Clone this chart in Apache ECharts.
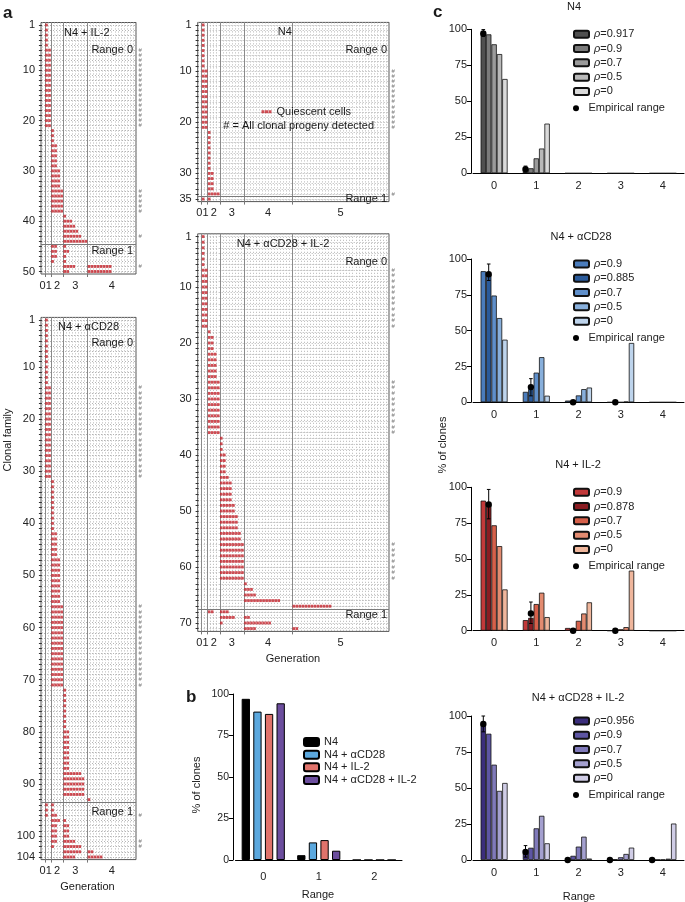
<!DOCTYPE html>
<html><head><meta charset="utf-8">
<script src="https://cdn.jsdelivr.net/npm/echarts@6/dist/echarts.min.js"></script>
<style>html,body{margin:0;padding:0;background:#fff}#c{width:685px;height:902px}</style>
</head><body><div id="c"></div><script>
// ---------------- DATA ----------------
// Panel a: runs of clonal families [firstFamily, lastFamily, generation, quiescentCells]
const genLabels = ['0', '1', '2', '3', '4', '5'];

const aIL2Runs = [[1,5,1,1],[6,21,1,2],[22,24,2,1],[25,29,2,2],[30,33,2,3],[34,38,2,4],
  [39,39,3,1],[40,40,3,3],[41,41,3,4],[42,42,3,5],[43,43,3,6],[44,44,3,8],
  [45,45,2,2],[45,45,3,1],[46,46,2,2],[46,46,3,2],[47,47,2,2],[47,47,3,1],[48,48,2,1],[48,48,3,1],
  [49,49,3,4],[49,49,4,8],[50,50,3,2],[50,50,4,8]];
const aIL2Hash = [[6,21],[34,38],[43,43],[49,49]];
const aIL2Ticks = [1,10,20,30,40,50];

const aN4Runs = [[1,9,1,1],[10,21,1,2],[22,29,2,1],[30,33,2,2],[34,34,2,4],[35,35,1,1],[35,35,2,1]];
const aN4Hash = [[10,21],[34,34]];
const aN4Ticks = [1,10,20,30,35];

const aCD28Runs = [[1,13,1,1],[14,31,1,2],[32,41,2,1],[42,46,2,2],[47,55,2,3],[56,71,2,4],
  [72,79,3,1],[80,87,3,2],[88,88,3,6],[89,92,3,7],[93,93,4,1],
  [94,95,1,1],[94,95,2,1],[96,96,1,1],[96,96,2,2],[97,97,2,3],[97,97,3,1],[98,100,2,2],[98,100,3,2],
  [101,101,2,2],[101,101,3,4],[102,102,2,1],[102,102,3,6],[103,103,3,6],[103,103,4,2],[104,104,3,4],[104,104,4,5]];
const aCD28Hash = [[14,31],[56,71],[96,96],[101,102]];
const aCD28Ticks = [1,10,20,30,40,50,60,70,80,90,100,104];

const aComboRuns = [[1,6,1,1],[7,17,1,2],[18,18,2,1],[19,21,2,2],[22,26,2,3],[27,36,2,4],
  [37,39,3,1],[40,43,3,2],[44,44,3,3],[45,48,3,4],[49,50,3,5],[51,53,3,6],[54,55,3,7],[56,62,3,8],
  [63,63,4,1],[64,64,4,3],[65,65,4,4],[66,66,4,12],[67,67,5,13],
  [68,68,2,2],[68,68,3,3],[69,69,3,5],[69,69,4,2],[70,70,3,1],[70,70,4,9],[71,71,4,4],[71,71,5,2]];
const aComboHash = [[7,17],[27,36],[56,62]];
const aComboTicks = [1,10,20,30,40,50,60,70];

// Panel b
const bRanges = ['0', '1', '2'];
const bGroups = ['N4', 'N4 + αCD28', 'N4 + IL-2', 'N4 + αCD28 + IL-2'];
const bN4 = [97.1, 2.9, 0];
const bCD28 = [89.4, 10.6, 0];
const bIL2 = [88.0, 12.0, 0];
const bCombo = [94.4, 5.6, 0];

// Panel c
const cRanges = ['0', '1', '2', '3', '4'];
const cN4Rho = ['0.917', '0.9', '0.7', '0.5', '0'];
const cN4Pred = [[97.1,2.9,0,0,0],[96.5,3.5,0,0,0],[89.6,10.4,0,0,0],[82.8,17.2,0,0,0],[65.5,34.5,0,0,0]];
const cN4Emp = [[0,97.1,95.0,99.8],[1,2.9,0.8,5.0]];   // [range, value, low, high]
const cN4Fit = 0;

const cCD28Rho = ['0.9', '0.885', '0.7', '0.5', '0'];
const cCD28Pred = [[91.5,7.3,1.2,0,0],[89.4,9.3,1.3,0,0],[74.5,20.7,4.8,0,0],[58.8,31.5,9.2,0.5,0],[43.7,4.6,10.3,41.4,0]];
const cCD28Emp = [[0,89.4,85.0,96.5],[1,10.6,4.5,16.5],[2,0,0,0],[3,0,0,0]];
const cCD28Fit = 1;

const cIL2Rho = ['0.9', '0.878', '0.7', '0.5', '0'];
const cIL2Pred = [[90.7,7.4,1.9,0,0],[88.2,9.0,1.6,0.2,0],[73.5,18.6,6.9,1.0,0],[59.0,26.5,12.0,2.5,0],[28.8,9.5,19.8,41.9,0]];
const cIL2Emp = [[0,88.0,78.0,98.5],[1,12.0,5.0,20.0],[2,0,0,0],[3,0,0,0]];
const cIL2Fit = 1;

const cComboRho = ['0.956', '0.9', '0.7', '0.5', '0'];
const cComboPred = [[95.0,4.6,0.4,0,0],[87.7,8.5,2.9,0.5,0.2],[66.2,22.0,9.3,1.9,0.3],[48.0,30.7,16.2,4.2,0.9],[53.5,11.6,1.0,8.6,25.3]];
const cComboEmp = [[0,94.4,89.0,100],[1,5.6,2.0,10.0],[2,0,0,0],[3,0,0,0],[4,0,0,0]];
const cComboFit = 0;

// ---------------- BUILD ----------------
const FONT = '"Liberation Sans", Arial, Helvetica, sans-serif';
const TXT = '#222';
const grid = [], xAxis = [], yAxis = [], series = [], legend = [], graphic = [];

function buildA(p, box) {
  const gi = grid.length;
  grid.push({left: box.left, top: box.top, width: box.width, height: box.height, show: true,
    borderColor: '#555', borderWidth: 1, backgroundColor: 'transparent'});
  const maxCol = Math.pow(2, p.maxGen + 1) - 1;
  const bounds = [], centers = [], texts = [], cols = [], fams = [];
  for (let g = 1; g <= p.maxGen; g++) bounds.push(Math.pow(2, g) - 1);
  // generations 0 and 1 are too narrow for separate labels: one "01" label between their centres
  centers.push((0.5 + 2) / 2); texts.push(genLabels[0] + genLabels[1]);
  for (let g = 2; g <= p.maxGen; g++) { centers.push(1.5 * Math.pow(2, g) - 1); texts.push(genLabels[g]); }
  for (let c = 0; c <= maxCol; c++) cols.push(c);
  for (let f = 1; f <= p.families; f++) fams.push(f);
  // dotted column grid
  xAxis.push({gridIndex: gi, type: 'value', min: -0.3, max: maxCol, position: 'bottom', z: 0,
    axisLine: {show: false}, axisTick: {show: false, customValues: cols}, axisLabel: {show: false},
    splitLine: {show: true, lineStyle: {color: '#b4b4b4', width: 1, type: [1, 2]}}});
  const xi = xAxis.length;
  xAxis.push({gridIndex: gi, type: 'value', min: -0.3, max: maxCol, position: 'bottom', z: 2,
    axisLine: {show: false},
    axisTick: {show: true, customValues: bounds, length: 3, lineStyle: {color: '#777'}},
    axisLabel: {customValues: centers, fontSize: 11, color: TXT, margin: 6, fontFamily: FONT,
      hideOverlap: false, showMinLabel: true, showMaxLabel: true,
      formatter: v => { let i = -1; centers.forEach((c, k) => { if (Math.abs(c - v) < 1e-6) i = k; }); return i >= 0 ? texts[i] : ''; }},
    splitLine: {show: true, lineStyle: {color: '#8a8a8a', width: 1}}});
  const yi = yAxis.length;
  yAxis.push({gridIndex: gi, type: 'value', inverse: true, min: 0.5, max: p.families + 0.5,
    axisLine: {show: false},
    axisTick: {show: true, customValues: fams, length: 3, lineStyle: {color: '#333'}},
    axisLabel: {customValues: p.ticks, fontSize: 11, color: TXT, margin: 6, fontFamily: FONT, hideOverlap: false},
    splitLine: {show: true, lineStyle: {color: '#b4b4b4', width: 1, type: [1, 2]}}});
  const dots = [];
  p.runs.forEach(([f0, f1, g, n]) => {
    for (let f = f0; f <= f1; f++) for (let k = 0; k < n; k++) dots.push([Math.pow(2, g) - 1 + k + 0.5, f]);
  });
  const hashes = [];
  p.hash.forEach(([f0, f1]) => { for (let f = f0; f <= f1; f++) hashes.push([maxCol, f]); });
  series.push({type: 'scatter', name: 'Quiescent cells', xAxisIndex: xi, yAxisIndex: yi, data: dots,
    symbol: 'rect', symbolSize: [2.6, 2.9], itemStyle: {color: '#c4232c'}, silent: true, z: 3,
    markLine: {silent: true, symbol: ['none', 'none'], label: {show: false},
      lineStyle: {color: '#7a7a7a', type: 'solid', width: 1}, data: [{yAxis: p.range1 - 0.5}]}});
  series.push({type: 'scatter', name: 'hash' + gi, xAxisIndex: xi, yAxisIndex: yi, data: hashes,
    symbolSize: 0.1, itemStyle: {color: 'rgba(0,0,0,0)'}, clip: false, silent: true,
    labelLayout: {hideOverlap: false},
    label: {show: true, position: 'right', distance: 2.5, formatter: '#', fontSize: 6, color: '#555', fontFamily: FONT}});
}

buildA({runs: aIL2Runs, hash: aIL2Hash, ticks: aIL2Ticks, families: 50, range1: 45, maxGen: 4},
  {left: 41, top: 22.5, width: 95, height: 251.5});
buildA({runs: aN4Runs, hash: aN4Hash, ticks: aN4Ticks, families: 35, range1: 35, maxGen: 5},
  {left: 197.7, top: 22.4, width: 191.3, height: 179.2});
buildA({runs: aCD28Runs, hash: aCD28Hash, ticks: aCD28Ticks, families: 104, range1: 94, maxGen: 4},
  {left: 41, top: 317.4, width: 95, height: 542.2});
buildA({runs: aComboRuns, hash: aComboHash, ticks: aComboTicks, families: 71, range1: 68, maxGen: 5},
  {left: 197.7, top: 233.8, width: 191.3, height: 397.6});

legend.push({left: 256.5, top: 101.2, orient: 'vertical', selectedMode: false,
  itemWidth: 10, itemHeight: 3,
  data: [{name: 'Quiescent cells', icon: 'path://M0,0h3v3h-3zM3.5,0h3v3h-3zM7,0h3v3h-3z'}],
  textStyle: {fontSize: 11, color: TXT, fontFamily: FONT}});

// Panel b
(function () {
  const gi = grid.length;
  grid.push({left: 235.5, top: 694, width: 166.5, height: 166});
  const xi = xAxis.length;
  xAxis.push({gridIndex: gi, type: 'category', data: bRanges,
    axisLine: {lineStyle: {color: '#000'}}, axisTick: {show: false},
    axisLabel: {fontSize: 11, color: TXT, margin: 11, fontFamily: FONT}});
  const yi = yAxis.length;
  yAxis.push({gridIndex: gi, type: 'value', min: 0, max: 100, interval: 25, offset: 2.5,
    axisLine: {show: true, lineStyle: {color: '#000'}},
    axisTick: {show: true, length: 4, lineStyle: {color: '#000'}},
    axisLabel: {fontSize: 10.5, color: TXT, margin: 4, fontFamily: FONT}, splitLine: {show: false}});
  const vals = [bN4, bCD28, bIL2, bCombo];
  const cols = ['#000000', '#5ba8de', '#e0736b', '#6c4e9e'];
  bGroups.forEach((nm, i) => series.push({type: 'bar', name: nm, xAxisIndex: xi, yAxisIndex: yi,
    data: vals[i], barWidth: 8.3, barGap: '40%', silent: true,
    itemStyle: {color: cols[i], borderColor: '#000', borderWidth: 1}}));
  legend.push({left: 298, top: 730.6, orient: 'vertical', selectedMode: false,
    itemWidth: 15, itemHeight: 8, itemGap: 0, data: bGroups,
    textStyle: {fontSize: 11, color: TXT, lineHeight: 12.7, fontFamily: FONT}});
})();

// Panel c
function buildC(p, box, colors) {
  const gi = grid.length;
  grid.push({left: box.left, top: box.top, width: box.width, height: box.height});
  const xi = xAxis.length;
  xAxis.push({gridIndex: gi, type: 'category', data: cRanges,
    axisLine: {lineStyle: {color: '#000'}}, axisTick: {show: false},
    axisLabel: {fontSize: 11, color: TXT, margin: 7, fontFamily: FONT}});
  const yi = yAxis.length;
  yAxis.push({gridIndex: gi, type: 'value', min: 0, max: 100, interval: 25, offset: 2,
    axisLine: {show: true, lineStyle: {color: '#000'}},
    axisTick: {show: true, length: 4, lineStyle: {color: '#000'}},
    axisLabel: {fontSize: 11, color: TXT, margin: 4, fontFamily: FONT}, splitLine: {show: false}});
  const names = p.rho.map(r => p.key + '|ρ=' + r);
  const barW = 5.4;
  p.pred.forEach((vals, i) => series.push({type: 'bar', name: names[i], xAxisIndex: xi, yAxisIndex: yi,
    data: vals, barWidth: barW, barGap: '0%', silent: true,
    itemStyle: {color: colors[i], borderColor: '#111', borderWidth: 0.8}}));
  const empName = p.key + '|Empirical range';
  const off = (p.fit - (p.rho.length - 1) / 2) * barW;
  series.push({type: 'custom', name: empName, xAxisIndex: xi, yAxisIndex: yi, data: p.emp, z: 5,
    silent: true, clip: false, itemStyle: {color: '#000'}, encode: {x: 0, y: 1},
    renderItem: (params, api) => {
      const c = api.value(0), v = api.value(1), lo = api.value(2), hi = api.value(3);
      const pt = api.coord([c, v]), pl = api.coord([c, lo]), ph = api.coord([c, hi]);
      const x = pt[0] + off;
      const ch = [];
      if (hi > lo) {
        const ls = {stroke: '#000', lineWidth: 1};
        ch.push({type: 'line', shape: {x1: x, y1: pl[1], x2: x, y2: ph[1]}, style: ls});
        ch.push({type: 'line', shape: {x1: x - 1.8, y1: ph[1], x2: x + 1.8, y2: ph[1]}, style: ls});
        ch.push({type: 'line', shape: {x1: x - 1.8, y1: pl[1], x2: x + 1.8, y2: pl[1]}, style: ls});
      }
      ch.push({type: 'circle', shape: {cx: x, cy: pt[1], r: 3.2}, style: {fill: '#000'}});
      return {type: 'group', children: ch};
    }});
  const rich = {i: {fontStyle: 'italic', fontSize: 11, lineHeight: 14.3, color: TXT, fontFamily: FONT},
                n: {fontSize: 11, lineHeight: 14.3, color: TXT, fontFamily: FONT}};
  legend.push({left: 568, top: box.top - 7.2, orient: 'vertical', selectedMode: false,
    itemWidth: 15, itemHeight: 7, itemGap: 0, data: names,
    formatter: nm => { const s = nm.split('|')[1]; return '{i|ρ}{n|' + s.slice(1) + '}'; },
    textStyle: {fontSize: 11, color: TXT, lineHeight: 14.3, fontFamily: FONT, rich: rich}});
  legend.push({left: 568, top: box.top + 74 - 7.2, orient: 'vertical', selectedMode: false,
    itemWidth: 15, itemHeight: 6, data: [{name: empName, icon: 'circle'}],
    formatter: nm => nm.split('|')[1],
    textStyle: {fontSize: 11, color: TXT, lineHeight: 14.3, fontFamily: FONT}});
}
buildC({key: 'c1', rho: cN4Rho, pred: cN4Pred, emp: cN4Emp, fit: cN4Fit},
  {left: 473, top: 29.3, width: 211, height: 144},
  ['#4f4f4f', '#7a7a7a', '#9b9b9b', '#b9b9b9', '#dadada']);
buildC({key: 'c2', rho: cCD28Rho, pred: cCD28Pred, emp: cCD28Emp, fit: cCD28Fit},
  {left: 473, top: 259, width: 211, height: 143.3},
  ['#4a7cbc', '#2a5a9a', '#5f8fca', '#88afdb', '#bed4ec']);
buildC({key: 'c3', rho: cIL2Rho, pred: cIL2Pred, emp: cIL2Emp, fit: cIL2Fit},
  {left: 473, top: 487.3, width: 211, height: 143.4},
  ['#c2393a', '#8a1c22', '#d6604a', '#e38b70', '#efb69c']);
buildC({key: 'c4', rho: cComboRho, pred: cComboPred, emp: cComboEmp, fit: cComboFit},
  {left: 473, top: 716, width: 211, height: 144},
  ['#3b2e7c', '#5d55a3', '#807aba', '#a4a0cf', '#d0cde6']);

// Texts
const texts = [
  {t: 'a', x: 3, y: 13, s: 17, w: 'bold'},
  {t: 'b', x: 186, y: 697, s: 17, w: 'bold'},
  {t: 'c', x: 433, y: 12, s: 17, w: 'bold'},
  {t: 'N4 + IL-2', x: 64, y: 32.5},
  {t: 'Range 0', x: 133, y: 50, a: 'right'},
  {t: 'Range 1', x: 133, y: 250.7, a: 'right'},
  {t: 'N4', x: 277.7, y: 31.7},
  {t: 'Range 0', x: 387, y: 50, a: 'right'},
  {t: 'Range 1', x: 387, y: 199, a: 'right'},
  {t: '# = All clonal progeny detected', x: 223.3, y: 126},
  {t: 'N4 + αCD28', x: 58, y: 326.7},
  {t: 'Range 0', x: 133, y: 343, a: 'right'},
  {t: 'Range 1', x: 133, y: 811.7, a: 'right'},
  {t: 'N4 + αCD28 + IL-2', x: 236.7, y: 244},
  {t: 'Range 0', x: 387, y: 262.3, a: 'right'},
  {t: 'Range 1', x: 387, y: 615, a: 'right'},
  {t: 'Clonal family', x: 8, y: 440, a: 'center', r: true},
  {t: 'Generation', x: 87.5, y: 886.7, a: 'center'},
  {t: 'Generation', x: 293, y: 659.3, a: 'center'},
  {t: '% of clones', x: 197, y: 785, a: 'center', r: true},
  {t: 'Range', x: 318, y: 895, a: 'center'},
  {t: 'N4', x: 574, y: 7, a: 'center'},
  {t: 'N4 + αCD28', x: 581, y: 236.7, a: 'center'},
  {t: 'N4 + IL-2', x: 578, y: 465, a: 'center'},
  {t: 'N4 + αCD28 + IL-2', x: 578, y: 698.3, a: 'center'},
  {t: '% of clones', x: 443, y: 445, a: 'center', r: true},
  {t: 'Range', x: 579, y: 896.7, a: 'center'}
];
texts.forEach(o => graphic.push({type: 'text', x: o.x, y: o.y, rotation: o.r ? Math.PI / 2 : 0, silent: true, z: 10,
  style: {text: o.t, fill: '#1a1a1a', fontSize: o.s || 11, fontWeight: o.w || 'normal', fontFamily: FONT,
    align: o.a || 'left', verticalAlign: 'middle', textAlign: o.a || 'left', textVerticalAlign: 'middle'}}));

const chart = echarts.init(document.getElementById('c'), null, {renderer: 'canvas'});
chart.setOption({
  animation: false,
  backgroundColor: '#fff',
  textStyle: {fontFamily: FONT},
  grid, xAxis, yAxis, series, legend, graphic
});
</script></body></html>
